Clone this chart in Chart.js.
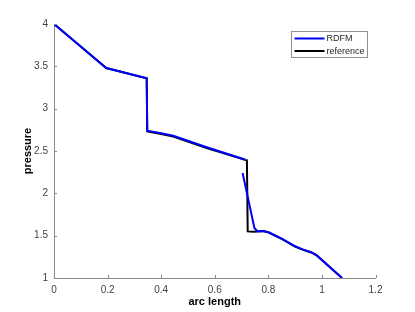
<!DOCTYPE html>
<html>
<head>
<meta charset="utf-8">
<script src="https://cdn.jsdelivr.net/npm/chart.js@4/dist/chart.umd.min.js"></script>
<style>
  body { margin: 0; background: #fff; }
  #wrap { width: 415px; height: 312px; }
</style>
</head>
<body>
<div id="wrap"><canvas id="plot" width="415" height="312"></canvas></div>
<script>
// RDFM solution (null = break in the line)
const arcRdfm  = [0, 0.195, 0.346, 0.348, 0.40, 0.445, 0.57, 0.713, null, 0.704, 0.748, 0.76, 0.78, 0.80, 0.85, 0.90, 0.93, 0.96, 0.98, 1.075];
const presRdfm = [4.0, 3.48, 3.36, 2.74, 2.71, 2.68, 2.545, 2.40, null, 2.24, 1.59, 1.55, 1.556, 1.54, 1.465, 1.375, 1.335, 1.305, 1.27, 1.0];

// reference solution
const arcRef  = [0, 0.195, 0.346, 0.348, 0.40, 0.445, 0.57, 0.713, 0.72, 0.723, 0.745, 0.78, 0.80, 0.85, 0.90, 0.93, 0.96, 0.98, 1.075];
const presRef = [4.0, 3.48, 3.36, 2.73, 2.70, 2.672, 2.535, 2.395, 2.39, 1.55, 1.545, 1.555, 1.54, 1.462, 1.372, 1.333, 1.302, 1.268, 1.0];

const xTicks = [0, 0.2, 0.4, 0.6, 0.8, 1, 1.2];
const yTicks = [1, 1.5, 2, 2.5, 3, 3.5, 4];

function toPoints(xs, ys) {
    return xs.map((x, i) => ({ x: x === null ? NaN : x, y: ys[i] }));
}

const axisColor = '#8a8a8a';
const textColor = '#404040';

// MATLAB style ticks pointing into the axes
const innerTicks = {
    id: 'innerTicks',
    afterDraw(chart) {
        const c = chart.ctx, a = chart.chartArea;
        const xs = chart.scales.x, ys = chart.scales.y;
        c.save();
        c.strokeStyle = axisColor;
        c.lineWidth = 1;
        c.beginPath();
        xTicks.forEach(v => {
            const p = Math.round(xs.getPixelForValue(v)) + 0.5;
            c.moveTo(p, a.bottom);
            c.lineTo(p, a.bottom - 3);
        });
        yTicks.forEach(v => {
            const p = Math.round(ys.getPixelForValue(v)) + 0.5;
            c.moveTo(a.left, p);
            c.lineTo(a.left + 3, p);
        });
        c.stroke();
        c.restore();
    }
};

// legend box in the upper right of the axes
const boxLegend = {
    id: 'boxLegend',
    afterDraw(chart) {
        const c = chart.ctx;
        const x0 = 291.5, y0 = 31.5, w = 76, h = 26;
        c.save();
        c.fillStyle = '#fff';
        c.fillRect(x0, y0, w, h);
        c.strokeStyle = '#909090';
        c.lineWidth = 1;
        c.strokeRect(x0, y0, w, h);
        c.font = '9px "Liberation Sans", Arial, sans-serif';
        c.textBaseline = 'middle';
        chart.data.datasets.forEach((ds, i) => {
            const y = y0 + 7 + i * 12.5;
            c.strokeStyle = ds.borderColor;
            c.lineWidth = 2;
            c.beginPath();
            c.moveTo(x0 + 3, y);
            c.lineTo(x0 + 33, y);
            c.stroke();
            c.fillStyle = '#262626';
            c.fillText(ds.label, x0 + 35, y + 0.5);
        });
        c.restore();
    }
};

new Chart(document.getElementById('plot'), {
    type: 'line',
    data: {
        datasets: [{
            label: 'RDFM',
            data: toPoints(arcRdfm, presRdfm),
            borderColor: '#0000ff',
            borderWidth: 2,
            pointRadius: 0,
            spanGaps: false,
            tension: 0
        }, {
            label: 'reference',
            data: toPoints(arcRef, presRef),
            borderColor: '#000000',
            borderWidth: 2,
            pointRadius: 0,
            tension: 0
        }]
    },
    options: {
        responsive: false,
        animation: false,
        parsing: false,
        layout: { padding: { top: 24, right: 39.5, left: 0, bottom: 0 } },
        plugins: {
            legend: { display: false },
            tooltip: { enabled: false }
        },
        scales: {
            x: {
                type: 'linear',
                min: 0,
                max: 1.2,
                afterFit: s => { s.height = 34; },
                afterBuildTicks: s => { s.ticks = xTicks.map(v => ({ value: v })); },
                grid: { display: false, drawTicks: false },
                border: { display: true, color: axisColor, width: 1 },
                ticks: {
                    color: textColor,
                    padding: 6,
                    maxRotation: 0,
                    font: { family: '"Liberation Sans", Arial, sans-serif', size: 10 },
                    callback: v => String(v)
                },
                title: {
                    display: true,
                    text: 'arc length',
                    color: '#000',
                    padding: { top: 0, bottom: 3 },
                    font: { family: '"Liberation Sans", Arial, sans-serif', size: 11, weight: 'bold' }
                }
            },
            y: {
                type: 'linear',
                min: 1,
                max: 4,
                afterFit: s => { s.width = 54; },
                afterBuildTicks: s => { s.ticks = yTicks.map(v => ({ value: v })); },
                grid: { display: false, drawTicks: false },
                border: { display: true, color: axisColor, width: 1 },
                ticks: {
                    color: textColor,
                    padding: 6,
                    font: { family: '"Liberation Sans", Arial, sans-serif', size: 10 },
                    callback: v => String(v)
                },
                title: {
                    display: true,
                    text: 'pressure',
                    color: '#000',
                    padding: { top: 21, bottom: 0 },
                    font: { family: '"Liberation Sans", Arial, sans-serif', size: 11, weight: 'bold' }
                }
            }
        }
    },
    plugins: [innerTicks, boxLegend]
});
</script>
</body>
</html>
